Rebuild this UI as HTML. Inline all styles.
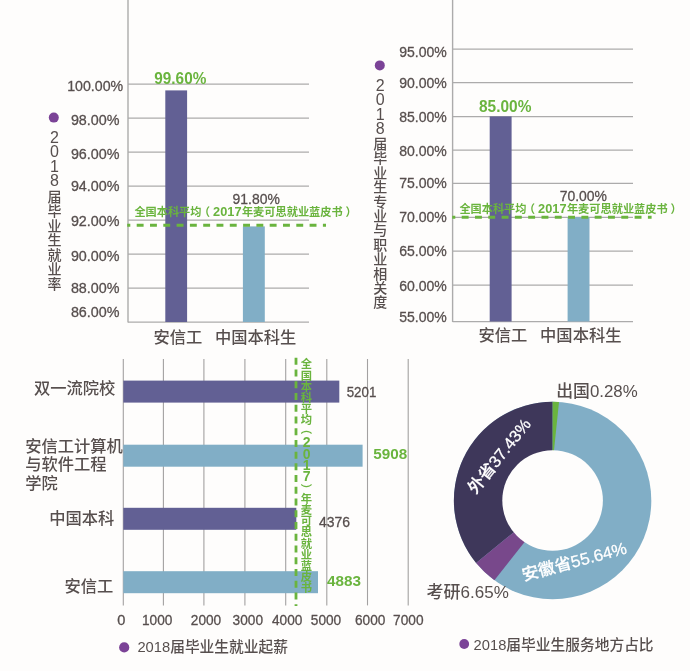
<!DOCTYPE html>
<html lang="zh-CN">
<head>
<meta charset="utf-8">
<title>2018届毕业生就业数据</title>
<style>
html,body{margin:0;padding:0;background:#fefdfc;}
body{width:690px;height:671px;overflow:hidden;}
svg{display:block;font-family:'Liberation Sans','Noto Sans CJK SC',sans-serif;font-weight:500;}
</style>
</head>
<body>
<svg width="690" height="671" viewBox="0 0 690 671">
<rect width="690" height="671" fill="#fefdfc"/>
<g stroke="#acabab" stroke-width="1.25">
<line x1="128" y1="84" x2="309" y2="84"/>
<line x1="128" y1="118" x2="309" y2="118"/>
<line x1="128" y1="152" x2="309" y2="152"/>
<line x1="128" y1="186" x2="309" y2="186"/>
<line x1="128" y1="220" x2="309" y2="220"/>
<line x1="128" y1="254" x2="309" y2="254"/>
<line x1="128" y1="288" x2="309" y2="288"/>
<line x1="128" y1="322" x2="309" y2="322"/>
<line x1="128" y1="0" x2="128" y2="322.6" stroke-width="1.4"/>
</g>
<rect x="165.3" y="90.4" width="21.8" height="231.6" fill="#626094"/>
<rect x="242.9" y="226.4" width="21.9" height="95.6" fill="#81aec6"/>
<text x="95.2" y="91.2" font-size="15.2" fill="#574f4e" text-anchor="middle" textLength="56" lengthAdjust="spacingAndGlyphs" stroke="#574f4e" stroke-width="0.3">100.00%</text>
<text x="95.2" y="125.0" font-size="15.2" fill="#574f4e" text-anchor="middle" textLength="48.6" lengthAdjust="spacingAndGlyphs" stroke="#574f4e" stroke-width="0.3">98.00%</text>
<text x="95.2" y="159.29999999999998" font-size="15.2" fill="#574f4e" text-anchor="middle" textLength="48.6" lengthAdjust="spacingAndGlyphs" stroke="#574f4e" stroke-width="0.3">96.00%</text>
<text x="95.2" y="191.2" font-size="15.2" fill="#574f4e" text-anchor="middle" textLength="48.6" lengthAdjust="spacingAndGlyphs" stroke="#574f4e" stroke-width="0.3">94.00%</text>
<text x="95.2" y="226.1" font-size="15.2" fill="#574f4e" text-anchor="middle" textLength="48.6" lengthAdjust="spacingAndGlyphs" stroke="#574f4e" stroke-width="0.3">92.00%</text>
<text x="95.2" y="260.9" font-size="15.2" fill="#574f4e" text-anchor="middle" textLength="48.6" lengthAdjust="spacingAndGlyphs" stroke="#574f4e" stroke-width="0.3">90.00%</text>
<text x="95.2" y="292.59999999999997" font-size="15.2" fill="#574f4e" text-anchor="middle" textLength="48.6" lengthAdjust="spacingAndGlyphs" stroke="#574f4e" stroke-width="0.3">88.00%</text>
<text x="95.2" y="316.8" font-size="15.2" fill="#574f4e" text-anchor="middle" textLength="48.6" lengthAdjust="spacingAndGlyphs" stroke="#574f4e" stroke-width="0.3">86.00%</text>
<text x="154.3" y="83.8" font-size="15.7" fill="#6ab43e" font-weight="bold" textLength="52" lengthAdjust="spacingAndGlyphs">99.60%</text>
<text x="232.5" y="204.2" font-size="15" fill="#574f4e" textLength="47.3" lengthAdjust="spacingAndGlyphs" stroke="#574f4e" stroke-width="0.3">91.80%</text>
<line x1="127.2" y1="225.3" x2="326" y2="225.3" stroke="#6ab43e" stroke-width="3" stroke-dasharray="6.9 6.4" stroke-dashoffset="3.8"/>
<text y="216" font-size="11.3" fill="#6ab43e" font-weight="bold"><tspan x="134.4" textLength="67" lengthAdjust="spacingAndGlyphs">全国本科平均</tspan><tspan x="198.8">（</tspan><tspan x="213.1" font-size="12.8" textLength="28.4" lengthAdjust="spacingAndGlyphs">2017</tspan><tspan x="241.9" textLength="100.8" lengthAdjust="spacingAndGlyphs">年麦可思就业蓝皮书</tspan><tspan x="345.6">）</tspan></text>
<text x="177.9" y="343.4" font-size="16.3" fill="#574f4e" text-anchor="middle">安信工</text>
<text x="255.6" y="343.4" font-size="16.3" fill="#574f4e" text-anchor="middle">中国本科生</text>
<circle cx="53.8" cy="117.6" r="5" fill="#7b4397"/>
<text font-size="14" fill="#574f4e" text-anchor="middle"><tspan x="54.5" y="142.6" font-size="16">2</tspan><tspan x="54.5" y="157.1" font-size="16">0</tspan><tspan x="54.5" y="171.6" font-size="16">1</tspan><tspan x="54.5" y="186.1" font-size="16">8</tspan><tspan x="54.5" y="201.5">届</tspan><tspan x="54.5" y="216.0">毕</tspan><tspan x="54.5" y="230.5">业</tspan><tspan x="54.5" y="245.0">生</tspan><tspan x="54.5" y="259.5">就</tspan><tspan x="54.5" y="274.0">业</tspan><tspan x="54.5" y="288.5">率</tspan></text>
<g stroke="#acabab" stroke-width="1.25">
<line x1="452.6" y1="49" x2="633" y2="49"/>
<line x1="452.6" y1="82.6" x2="633" y2="82.6"/>
<line x1="452.6" y1="116.5" x2="633" y2="116.5"/>
<line x1="452.6" y1="150.2" x2="633" y2="150.2"/>
<line x1="452.6" y1="183.4" x2="633" y2="183.4"/>
<line x1="452.6" y1="217.4" x2="633" y2="217.4"/>
<line x1="452.6" y1="251" x2="633" y2="251"/>
<line x1="452.6" y1="285.1" x2="633" y2="285.1"/>
<line x1="452.6" y1="321.5" x2="633" y2="321.5"/>
<line x1="452.6" y1="0" x2="452.6" y2="322.1" stroke-width="1.4"/>
</g>
<rect x="489.7" y="116.4" width="21.9" height="205.1" fill="#626094"/>
<rect x="567.6" y="217.2" width="21.9" height="104.3" fill="#81aec6"/>
<text x="446.8" y="56.7" font-size="15.2" fill="#574f4e" text-anchor="end" textLength="47.6" lengthAdjust="spacingAndGlyphs" stroke="#574f4e" stroke-width="0.3">95.00%</text>
<text x="446.8" y="87.9" font-size="15.2" fill="#574f4e" text-anchor="end" textLength="47.6" lengthAdjust="spacingAndGlyphs" stroke="#574f4e" stroke-width="0.3">90.00%</text>
<text x="446.8" y="122.10000000000001" font-size="15.2" fill="#574f4e" text-anchor="end" textLength="47.6" lengthAdjust="spacingAndGlyphs" stroke="#574f4e" stroke-width="0.3">85.00%</text>
<text x="446.8" y="156.29999999999998" font-size="15.2" fill="#574f4e" text-anchor="end" textLength="47.6" lengthAdjust="spacingAndGlyphs" stroke="#574f4e" stroke-width="0.3">80.00%</text>
<text x="446.8" y="188.2" font-size="15.2" fill="#574f4e" text-anchor="end" textLength="47.6" lengthAdjust="spacingAndGlyphs" stroke="#574f4e" stroke-width="0.3">75.00%</text>
<text x="446.8" y="222.39999999999998" font-size="15.2" fill="#574f4e" text-anchor="end" textLength="47.6" lengthAdjust="spacingAndGlyphs" stroke="#574f4e" stroke-width="0.3">70.00%</text>
<text x="446.8" y="255.8" font-size="15.2" fill="#574f4e" text-anchor="end" textLength="47.6" lengthAdjust="spacingAndGlyphs" stroke="#574f4e" stroke-width="0.3">65.00%</text>
<text x="446.8" y="291.3" font-size="15.2" fill="#574f4e" text-anchor="end" textLength="47.6" lengthAdjust="spacingAndGlyphs" stroke="#574f4e" stroke-width="0.3">60.00%</text>
<text x="446.8" y="322.2" font-size="15.2" fill="#574f4e" text-anchor="end" textLength="47.6" lengthAdjust="spacingAndGlyphs" stroke="#574f4e" stroke-width="0.3">55.00%</text>
<text x="479" y="111.8" font-size="15.7" fill="#6ab43e" font-weight="bold" textLength="52.4" lengthAdjust="spacingAndGlyphs">85.00%</text>
<text x="559.7" y="200.5" font-size="15" fill="#574f4e" textLength="47.3" lengthAdjust="spacingAndGlyphs" stroke="#574f4e" stroke-width="0.3">70.00%</text>
<line x1="452.2" y1="217.3" x2="651.6" y2="217.3" stroke="#6ab43e" stroke-width="3" stroke-dasharray="6.9 6.4" stroke-dashoffset="3.8"/>
<text y="213.2" font-size="11.3" fill="#6ab43e" font-weight="bold"><tspan x="459.4" textLength="67" lengthAdjust="spacingAndGlyphs">全国本科平均</tspan><tspan x="523.8">（</tspan><tspan x="538.1" font-size="12.8" textLength="28.4" lengthAdjust="spacingAndGlyphs">2017</tspan><tspan x="566.9" textLength="100.8" lengthAdjust="spacingAndGlyphs">年麦可思就业蓝皮书</tspan><tspan x="670.6">）</tspan></text>
<text x="502.9" y="341.2" font-size="16.3" fill="#574f4e" text-anchor="middle">安信工</text>
<text x="580.8" y="341.2" font-size="16.3" fill="#574f4e" text-anchor="middle">中国本科生</text>
<circle cx="379.8" cy="65.4" r="5" fill="#7b4397"/>
<text font-size="14" fill="#574f4e" text-anchor="middle"><tspan x="380.3" y="90.7" font-size="16">2</tspan><tspan x="380.3" y="105.1" font-size="16">0</tspan><tspan x="380.3" y="119.5" font-size="16">1</tspan><tspan x="380.3" y="133.9" font-size="16">8</tspan><tspan x="380.3" y="148.9">届</tspan><tspan x="380.3" y="163.3">毕</tspan><tspan x="380.3" y="177.7">业</tspan><tspan x="380.3" y="192.1">生</tspan><tspan x="380.3" y="206.5">专</tspan><tspan x="380.3" y="220.9">业</tspan><tspan x="380.3" y="235.3">与</tspan><tspan x="380.3" y="249.7">职</tspan><tspan x="380.3" y="264.1">业</tspan><tspan x="380.3" y="278.5">相</tspan><tspan x="380.3" y="292.9">关</tspan><tspan x="380.3" y="307.3">度</tspan></text>
<g stroke="#a3a1a1" stroke-width="1.1">
<line x1="123.3" y1="359" x2="123.3" y2="605.4"/>
<line x1="163.4" y1="359" x2="163.4" y2="605.4"/>
<line x1="203.9" y1="359" x2="203.9" y2="605.4"/>
<line x1="244.9" y1="359" x2="244.9" y2="605.4"/>
<line x1="285.7" y1="359" x2="285.7" y2="605.4"/>
<line x1="326.8" y1="359" x2="326.8" y2="605.4"/>
<line x1="367.5" y1="359" x2="367.5" y2="605.4"/>
<line x1="408.2" y1="359" x2="408.2" y2="605.4"/>
</g>
<rect x="123.3" y="380.6" width="216.0" height="22" fill="#626094"/>
<rect x="123.3" y="444.7" width="239.3" height="22" fill="#81aec6"/>
<rect x="123.3" y="507.8" width="173.0" height="22" fill="#626094"/>
<rect x="123.3" y="571.2" width="194.7" height="22" fill="#81aec6"/>
<line x1="296" y1="357.8" x2="296" y2="606" stroke="#6ab43e" stroke-width="2.8" stroke-dasharray="7 4.73"/>
<text font-size="11.3" fill="#6ab43e" text-anchor="middle" font-weight="bold"><tspan x="306.3" y="368.4">全</tspan><tspan x="306.3" y="379.6">国</tspan><tspan x="306.3" y="390.8">本</tspan><tspan x="306.3" y="402.0">科</tspan><tspan x="306.3" y="413.2">平</tspan><tspan x="306.3" y="424.4">均</tspan><tspan x="306.3" y="432.9">︵</tspan><tspan x="306.6" y="447.4" font-size="14">2</tspan><tspan x="306.6" y="458.6" font-size="14">0</tspan><tspan x="306.6" y="469.8" font-size="14">1</tspan><tspan x="306.6" y="481.0" font-size="14">7</tspan><tspan x="306.3" y="493.8">︶</tspan><tspan x="306.3" y="502.8">年</tspan><tspan x="306.3" y="514.0">麦</tspan><tspan x="306.3" y="525.2">可</tspan><tspan x="306.3" y="536.4">思</tspan><tspan x="306.3" y="547.6">就</tspan><tspan x="306.3" y="558.8">业</tspan><tspan x="306.3" y="570.0">蓝</tspan><tspan x="306.3" y="581.2">皮</tspan><tspan x="306.3" y="592.4">书</tspan></text>
<text x="115.3" y="393.5" font-size="16.3" fill="#574f4e" text-anchor="end">双一流院校</text>
<text x="25.2" y="452" font-size="16.3" fill="#574f4e">安信工计算机</text>
<text x="25.2" y="470.4" font-size="16.3" fill="#574f4e">与软件工程</text>
<text x="25.2" y="489.2" font-size="16.3" fill="#574f4e">学院</text>
<text x="114.3" y="524.2" font-size="16.3" fill="#574f4e" text-anchor="end">中国本科</text>
<text x="113.4" y="591.8" font-size="16.3" fill="#574f4e" text-anchor="end">安信工</text>
<text x="346.7" y="397.2" font-size="15" fill="#574f4e" textLength="29.6" lengthAdjust="spacingAndGlyphs" stroke="#574f4e" stroke-width="0.3">5201</text>
<text x="373.2" y="459" font-size="15" fill="#6ab43e" font-weight="bold" textLength="34" lengthAdjust="spacingAndGlyphs">5908</text>
<text x="318.9" y="527.2" font-size="15" fill="#574f4e" textLength="31" lengthAdjust="spacingAndGlyphs" stroke="#574f4e" stroke-width="0.3">4376</text>
<text x="326.9" y="585.8" font-size="15" fill="#6ab43e" font-weight="bold" textLength="34" lengthAdjust="spacingAndGlyphs">4883</text>
<text x="121.4" y="625.2" font-size="14.6" fill="#574f4e" text-anchor="middle" stroke="#574f4e" stroke-width="0.3">0</text>
<text x="157.2" y="625.2" font-size="14.6" fill="#574f4e" text-anchor="middle" textLength="30.4" lengthAdjust="spacingAndGlyphs" stroke="#574f4e" stroke-width="0.3">1000</text>
<text x="206" y="625.2" font-size="14.6" fill="#574f4e" text-anchor="middle" textLength="30.4" lengthAdjust="spacingAndGlyphs" stroke="#574f4e" stroke-width="0.3">2000</text>
<text x="247.8" y="625.2" font-size="14.6" fill="#574f4e" text-anchor="middle" textLength="30.4" lengthAdjust="spacingAndGlyphs" stroke="#574f4e" stroke-width="0.3">3000</text>
<text x="287.2" y="625.2" font-size="14.6" fill="#574f4e" text-anchor="middle" textLength="30.4" lengthAdjust="spacingAndGlyphs" stroke="#574f4e" stroke-width="0.3">4000</text>
<text x="326" y="625.2" font-size="14.6" fill="#574f4e" text-anchor="middle" textLength="30.4" lengthAdjust="spacingAndGlyphs" stroke="#574f4e" stroke-width="0.3">5000</text>
<text x="370.2" y="625.2" font-size="14.6" fill="#574f4e" text-anchor="middle" textLength="30.4" lengthAdjust="spacingAndGlyphs" stroke="#574f4e" stroke-width="0.3">6000</text>
<text x="408.3" y="625.2" font-size="14.6" fill="#574f4e" text-anchor="middle" textLength="30.4" lengthAdjust="spacingAndGlyphs" stroke="#574f4e" stroke-width="0.3">7000</text>
<circle cx="124.2" cy="647.4" r="5.1" fill="#7b4397"/>
<text x="137.4" y="651.9" font-size="15" fill="#574f4e" textLength="150.6" lengthAdjust="spacingAndGlyphs">2018届毕业生就业起薪</text>
<circle cx="552.6" cy="500.5" r="98.7" fill="#81aec6"/>
<path d="M552.6 500.5 L476.1 562.9 A98.7 98.7 0 0 1 552.6 401.8 Z" fill="#3e375a"/>
<path d="M552.6 500.5 L524.4 542.2 L494.4 580.2 A98.7 98.7 0 0 1 476.1 562.9 Z" fill="#78488b"/>
<path d="M552.6 401.8 L559.0 402.0 L553.2 458.2 L552.6 458.2 Z" fill="#6ab43e"/>
<circle cx="552.6" cy="500.5" r="50.3" fill="#fefdfc"/>
<text x="556.2" y="396.9" font-size="17" fill="#574f4e" textLength="81.5" lengthAdjust="spacingAndGlyphs">出国0.28%</text>
<text x="426.5" y="598.3" font-size="16.6" fill="#574f4e" textLength="82.3" lengthAdjust="spacingAndGlyphs">考研6.65%</text>
<text transform="translate(499.2 456) rotate(-51.5)" x="0" y="5.8" text-anchor="middle" font-size="16.5" fill="#fff" stroke="#fff" stroke-width="0.25" textLength="90" lengthAdjust="spacingAndGlyphs">外省37.43%</text>
<text transform="translate(574.3 561.6) rotate(-15)" x="0" y="5.7" text-anchor="middle" font-size="16.6" fill="#fff" stroke="#fff" stroke-width="0.25" textLength="107.5" lengthAdjust="spacingAndGlyphs">安徽省55.64%</text>
<circle cx="464.2" cy="644" r="4.9" fill="#7b4397"/>
<text x="473.6" y="649.7" font-size="15" fill="#574f4e" textLength="180" lengthAdjust="spacingAndGlyphs">2018届毕业生服务地方占比</text>
</svg>
</body>
</html>
